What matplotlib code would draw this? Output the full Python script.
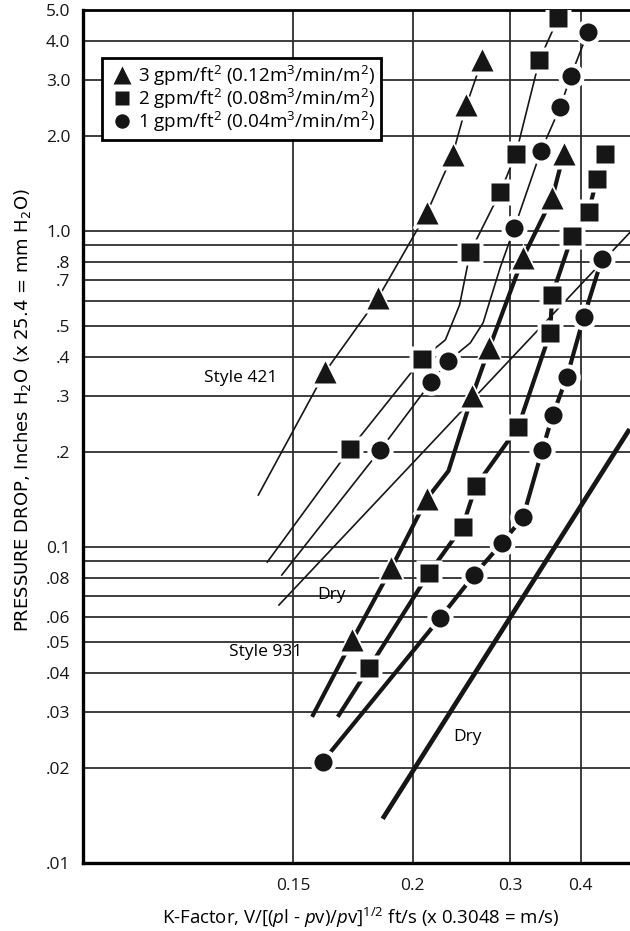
import numpy as np
import matplotlib
matplotlib.use('Agg')
import matplotlib.pyplot as plt

plt.rcParams['font.family'] = ['Open Sans', 'DejaVu Sans']
plt.rcParams['mathtext.fontset'] = 'custom'
plt.rcParams['mathtext.rm'] = 'Open Sans'
plt.rcParams['mathtext.it'] = 'Open Sans:italic'
plt.rcParams['mathtext.default'] = 'regular'

# ---- data ----
# Style 421 - thin lines
s421_tri_x = [0.162, 0.184, 0.212, 0.236, 0.250, 0.267]
s421_tri_y = [0.358, 0.614, 1.14, 1.74, 2.50, 3.48]
s421_tri_curve_x = [0.138, 0.162, 0.184, 0.212, 0.236, 0.250, 0.267]
s421_tri_curve_y = [0.146, 0.358, 0.614, 1.14, 1.74, 2.50, 3.48]

s421_sq_x = [0.172, 0.208, 0.254, 0.288, 0.307, 0.338, 0.365]
s421_sq_y = [0.204, 0.394, 0.858, 1.33, 1.75, 3.48, 4.72]
s421_sq_curve_x = [0.141, 0.172, 0.208, 0.229, 0.243, 0.254, 0.288, 0.307, 0.338, 0.365]
s421_sq_curve_y = [0.0896, 0.204, 0.394, 0.452, 0.583, 0.858, 1.33, 1.75, 3.48, 4.72]

s421_ci_x = [0.185, 0.216, 0.232, 0.305, 0.340, 0.368, 0.384, 0.412]
s421_ci_y = [0.203, 0.333, 0.388, 1.02, 1.79, 2.47, 3.09, 4.26]
s421_ci_curve_x = [0.146, 0.185, 0.216, 0.232, 0.254, 0.268, 0.276, 0.288,
                   0.305, 0.340, 0.368, 0.384, 0.412]
s421_ci_curve_y = [0.0815, 0.203, 0.333, 0.388, 0.442, 0.512, 0.605, 0.769,
                   1.02, 1.79, 2.47, 3.09, 4.26]

dry421_x = [0.145, 0.488]
dry421_y = [0.0655, 0.986]

# Style 931 - thick lines
s931_tri_x = [0.173, 0.190, 0.212, 0.256, 0.275, 0.316, 0.356, 0.373]
s931_tri_y = [0.0508, 0.0858, 0.142, 0.300, 0.426, 0.822, 1.27, 1.75]
s931_tri_curve_x = [0.157, 0.173, 0.190, 0.212, 0.232, 0.256, 0.275, 0.316, 0.356, 0.373]
s931_tri_curve_y = [0.029, 0.0508, 0.0858, 0.142, 0.174, 0.300, 0.426, 0.822, 1.27, 1.75]

s931_sq_x = [0.180, 0.214, 0.246, 0.260, 0.310, 0.353, 0.356, 0.386, 0.413, 0.427, 0.441]
s931_sq_y = [0.0414, 0.0827, 0.116, 0.156, 0.240, 0.476, 0.627, 0.964, 1.15, 1.46, 1.75]
s931_sq_curve_x = [0.167] + s931_sq_x
s931_sq_curve_y = [0.029] + s931_sq_y

s931_ci_x = [0.161, 0.224, 0.258, 0.290, 0.316, 0.342, 0.357, 0.378, 0.405, 0.436]
s931_ci_y = [0.0209, 0.0596, 0.0815, 0.103, 0.124, 0.203, 0.262, 0.345, 0.534, 0.815]

dry931_x = [0.186, 0.488]
dry931_y = [0.0138, 0.236]

legend_labels = ['3 gpm/ft$^2$ (0.12m$^3$/min/m$^2$)',
                 '2 gpm/ft$^2$ (0.08m$^3$/min/m$^2$)',
                 '1 gpm/ft$^2$ (0.04m$^3$/min/m$^2$)']

x_ticks = [0.15, 0.2, 0.3, 0.4]
x_ticklabels = ['0.15', '0.2', '0.3', '0.4']
y_ticks = [0.01, 0.02, 0.03, 0.04, 0.05, 0.06, 0.07, 0.08, 0.09, 0.1,
           0.2, 0.3, 0.4, 0.5, 0.6, 0.7, 0.8, 0.9, 1.0, 2.0, 3.0, 4.0, 5.0]
y_ticklabels = ['.01', '.02', '.03', '.04', '.05', '.06', '', '.08', '', '0.1',
                '.2', '.3', '.4', '.5', '', '.7', '.8', '', '1.0', '2.0', '3.0', '4.0', '5.0']

# the printed K-factor axis is not evenly logarithmic: spacing of its grid
# lines as a fraction of the axis width
grid_k = np.log10([0.15, 0.2, 0.3, 0.4])
grid_u = np.array([0.384, 0.603, 0.781, 0.910])
s_lo = (grid_u[1] - grid_u[0]) / (grid_k[1] - grid_k[0])
s_hi = (grid_u[3] - grid_u[2]) / (grid_k[3] - grid_k[2])
knot_k = np.concatenate([[-3.0], grid_k, [2.0]])
knot_u = np.concatenate([[grid_u[0] - s_lo * (grid_k[0] + 3.0)], grid_u,
                         [grid_u[-1] + s_hi * (2.0 - grid_k[-1])]])


def fwd(x):
    x = np.asarray(x, dtype=float)
    return np.interp(np.log10(np.clip(x, 1e-3, 100)), knot_k, knot_u)


def inv(u):
    return 10 ** np.interp(np.asarray(u, dtype=float), knot_u, knot_k)


INK = '#161616'

fig = plt.figure(figsize=(6.3, 9.31), dpi=100)
ax = fig.add_axes([83 / 630, 68 / 931, 547 / 630, 853 / 931])
ax.set_xscale('function', functions=(fwd, inv))
ax.set_yscale('log')
ax.set_xlim(float(inv(0.0)), float(inv(1.0)))
ax.set_ylim(0.01, 5.0)

# curves
ax.plot(s421_tri_curve_x, s421_tri_curve_y, color=INK, lw=1.2, zorder=2)
ax.plot(s421_sq_curve_x, s421_sq_curve_y, color=INK, lw=1.2, zorder=2)
ax.plot(s421_ci_curve_x, s421_ci_curve_y, color=INK, lw=1.2, zorder=2)
ax.plot(dry421_x, dry421_y, color=INK, lw=1.2, zorder=2)

ax.plot(s931_tri_curve_x, s931_tri_curve_y, color=INK, lw=3.0, zorder=2, solid_capstyle='butt')
ax.plot(s931_sq_curve_x, s931_sq_curve_y, color=INK, lw=3.0, zorder=2, solid_capstyle='butt')
ax.plot(s931_ci_x, s931_ci_y, color=INK, lw=3.0, zorder=2, solid_capstyle='butt')
ax.plot(dry931_x, dry931_y, color=INK, lw=3.4, zorder=2, solid_capstyle='butt')

# markers with white halo
series = [(s421_tri_x, s421_tri_y, '^', 16), (s421_sq_x, s421_sq_y, 's', 13),
          (s421_ci_x, s421_ci_y, 'o', 13),
          (s931_tri_x, s931_tri_y, '^', 16), (s931_sq_x, s931_sq_y, 's', 13),
          (s931_ci_x, s931_ci_y, 'o', 13)]
handles = []
for i, (xs, ys, m, ms) in enumerate(series):
    ax.plot(xs, ys, ls='none', marker=m, ms=ms + 6, color='white', mec='none', zorder=3)
    h, = ax.plot(xs, ys, ls='none', marker=m, ms=ms, color=INK, mec='none', zorder=4)
    if i < 3:
        handles.append(h)

leg = ax.legend(handles, legend_labels, loc='upper left', bbox_to_anchor=(0.035, 0.944),
                borderaxespad=0, fontsize=13.6, frameon=True, fancybox=False,
                edgecolor='black', framealpha=1, borderpad=0.3, handlelength=1.45,
                handletextpad=0.15, labelspacing=-0.05, markerscale=0.8)
leg.get_frame().set_linewidth(2.0)
leg.set_zorder(6)

# annotations
ax.text(0.1324, 0.3426, 'Style 421', fontsize=12.5, ha='center', va='center')
ax.text(0.1647, 0.0705, 'Dry', fontsize=12.5, ha='center', va='center')
ax.text(0.1406, 0.0465, 'Style 931', fontsize=12.5, ha='center', va='center')
ax.text(0.2506, 0.0250, 'Dry', fontsize=12.5, ha='center', va='center')

# axes
ax.xaxis.set_minor_locator(matplotlib.ticker.NullLocator())
ax.yaxis.set_minor_locator(matplotlib.ticker.NullLocator())
ax.set_xticks(x_ticks)
ax.set_xticklabels(x_ticklabels)
ax.set_yticks(y_ticks)
ax.set_yticklabels(y_ticklabels)
ax.tick_params(length=0, labelsize=12.5, colors=INK)
ax.tick_params(axis='x', pad=11)
ax.tick_params(axis='y', pad=9)
ax.grid(True, color='#2e2e2e', lw=1.3)
ax.set_axisbelow(True)
for side in ['left', 'bottom']:
    ax.spines[side].set_linewidth(2.4)
ax.spines['top'].set_linewidth(2.0)
ax.spines['right'].set_visible(False)

ax.set_xlabel('K-Factor, V/[($\\mathit{p}$l - $\\mathit{p}$v)/$\\mathit{p}$v]$^{1/2}$ ft/s (x 0.3048 = m/s)',
              fontsize=13.4)
ax.xaxis.label.set_va('center')
ax.xaxis.set_label_coords(0.508, -0.0645)
ax.set_ylabel('PRESSURE DROP, Inches H$_2$O (x 25.4 = mm H$_2$O)', fontsize=13,
              family=['Liberation Sans Narrow', 'DejaVu Sans'])
ax.yaxis.label.set_va('center')
ax.yaxis.set_label_coords(-0.1115, 0.531)

fig.savefig('out.png', dpi=100)
